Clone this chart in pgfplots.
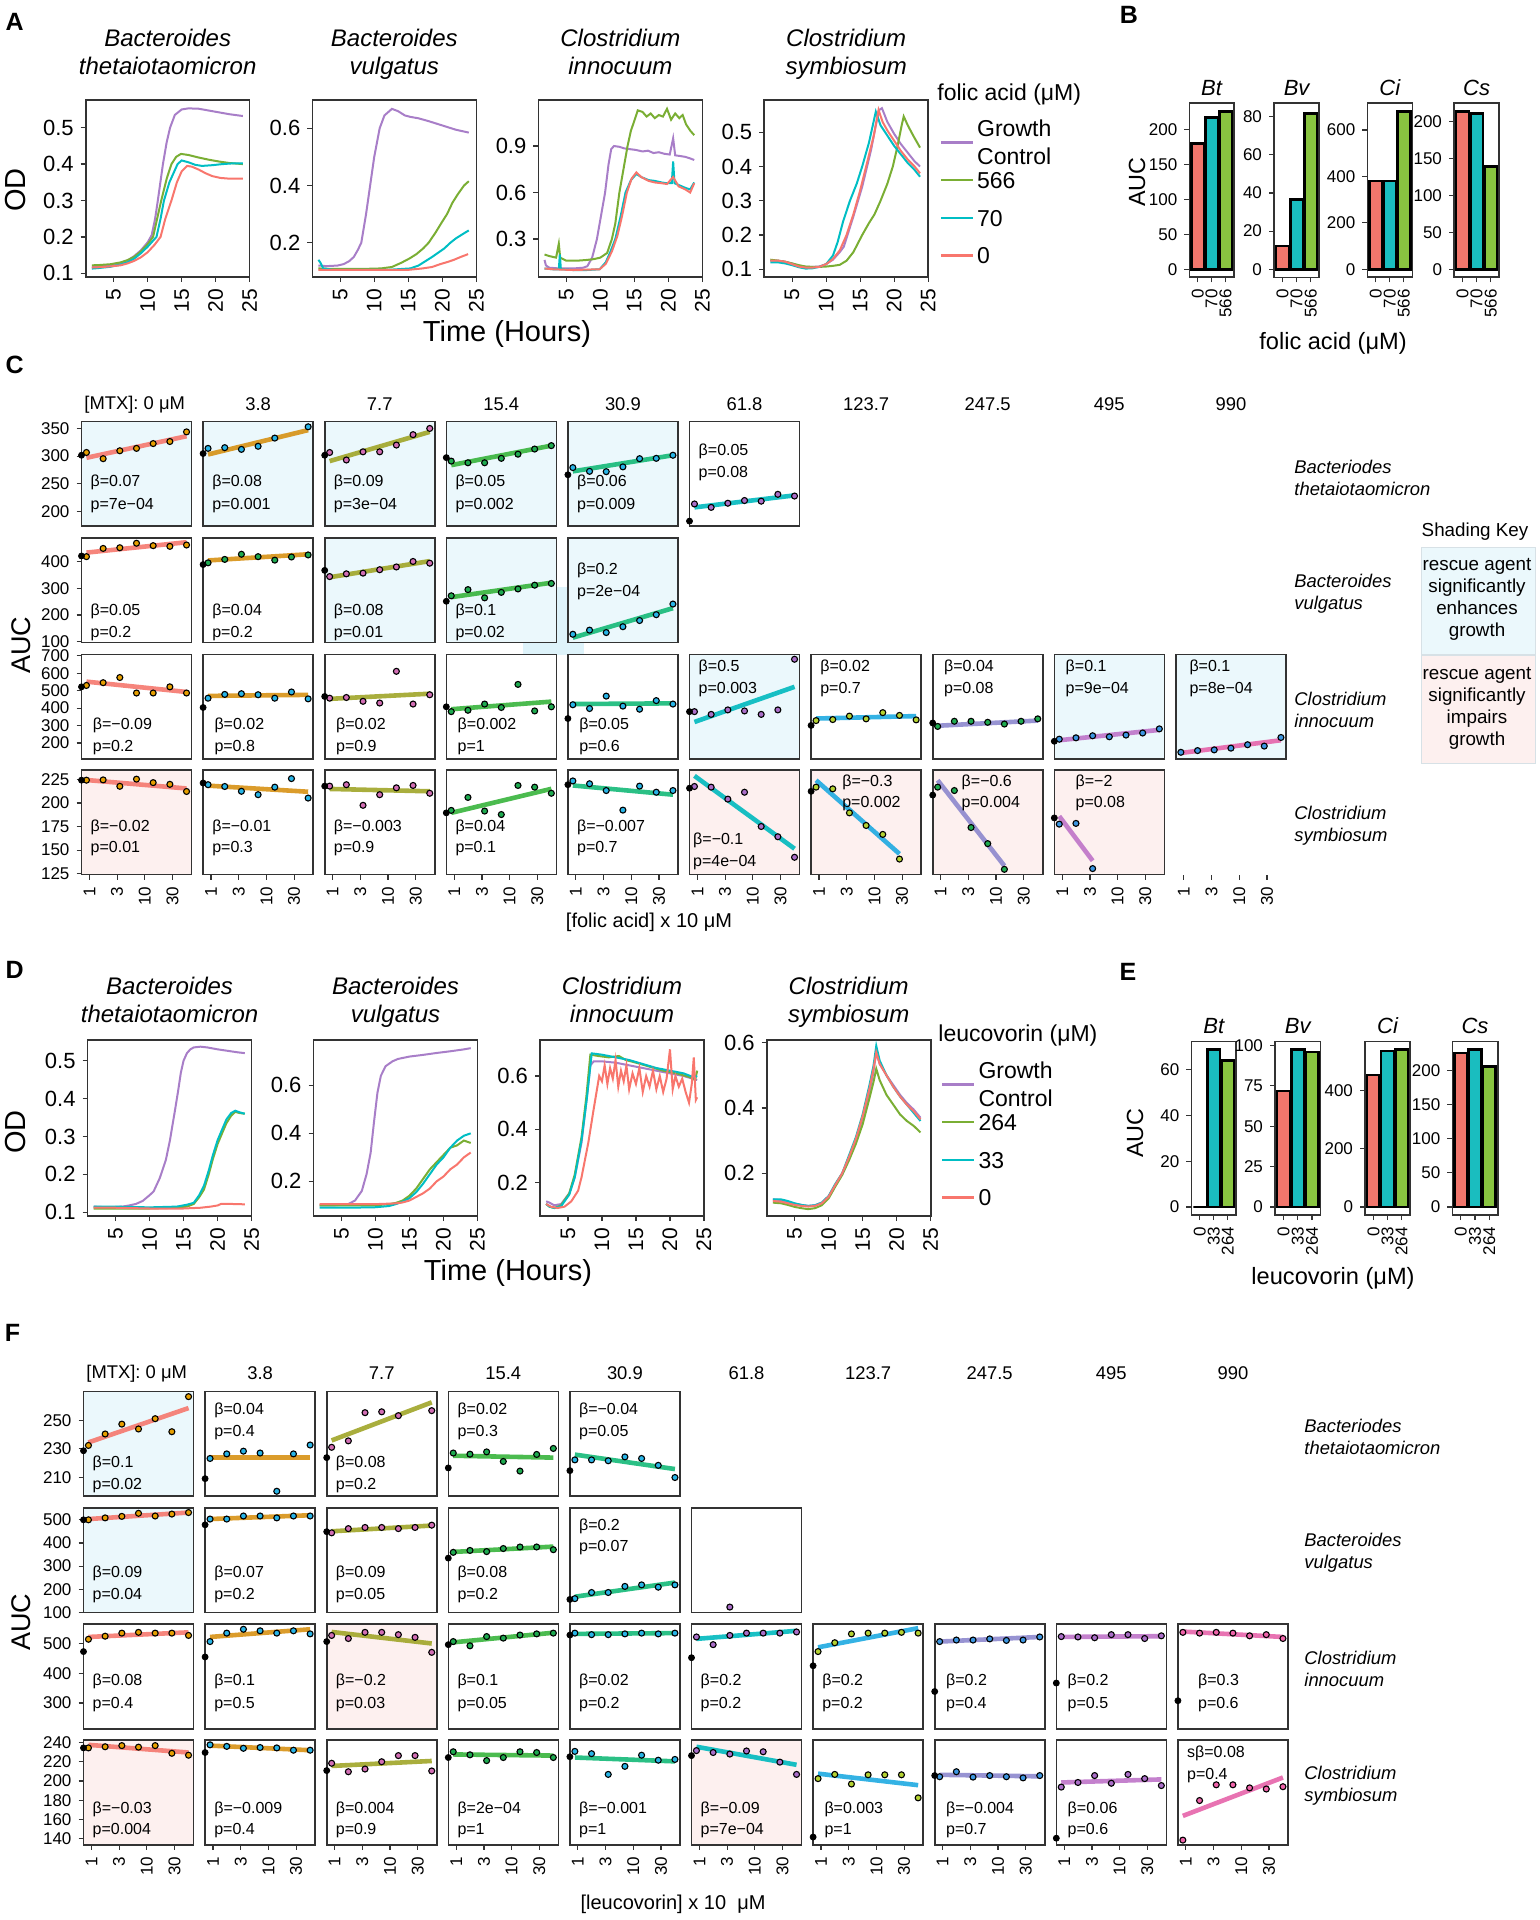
\documentclass[border=0pt]{standalone}
\usepackage{fontspec}
\setmainfont{Liberation Sans}
\usepackage{pgfplots}
\pgfplotsset{compat=1.18}

\definecolor{boxgray}{RGB}{51,51,51}
\definecolor{cP}{RGB}{168,126,200}
\definecolor{cG}{RGB}{122,174,52}
\definecolor{cC}{RGB}{0,190,196}
\definecolor{cR}{RGB}{248,118,109}
\definecolor{bR}{RGB}{241,118,108}
\definecolor{bC}{RGB}{26,189,191}
\definecolor{bG}{RGB}{137,196,64}
\definecolor{shblue}{RGB}{235,248,252}
\definecolor{shpink}{RGB}{253,240,239}
\definecolor{shblue2}{RGB}{222,243,250}
\definecolor{keyedge}{RGB}{215,225,230}
\definecolor{l1}{RGB}{245,120,110}
\definecolor{l2}{RGB}{215,145,20}
\definecolor{l3}{RGB}{160,165,40}
\definecolor{l4}{RGB}{55,180,60}
\definecolor{l5}{RGB}{20,185,120}
\definecolor{l6}{RGB}{0,185,190}
\definecolor{l7}{RGB}{30,170,225}
\definecolor{l8}{RGB}{140,135,205}
\definecolor{l9}{RGB}{190,115,200}
\definecolor{l10}{RGB}{230,100,170}
\definecolor{fA}{RGB}{230,159,0}
\definecolor{fB}{RGB}{40,180,230}
\definecolor{fC}{RGB}{210,110,180}
\definecolor{fD}{RGB}{30,170,80}
\definecolor{fE}{RGB}{170,110,200}
\definecolor{fG}{RGB}{180,210,50}
\definecolor{fH}{RGB}{60,150,225}
\definecolor{fI}{RGB}{240,100,170}

% pixel position of the 1539x1920 reference -> picture coordinates
\newcommand{\px}[2]{({(#1)*0.5pt},{-(#2)*0.5pt})}

% scatter x positions are log10 of the dose (x 10 uM):
% 0.884 1.77 3.54 7.08 14.15 28.3 56.6 ; the zero dose sits on the left edge
\pgfplotsset{
  pxat/.style 2 args={at={({(#1)*0.5pt},{-(#2)*0.5pt})}},
  base/.style={scale only axis, anchor=north west,
    axis line style={draw=boxgray, line width=0.8pt},
    every tick/.style={draw=boxgray, line width=0.6pt},
    major tick length=2.5pt, tick align=outside,
    xtick pos=bottom, ytick pos=left,
    /pgf/number format/assume math mode=true},
  ts/.style={base, width=82pt, xmin=0.9, xmax=25, xtick={5,10,15,20,25},
    x tick label style={rotate=90, anchor=east, font=\fontsize{10.5}{12}\selectfont},
    y tick label style={font=\fontsize{11}{13}\selectfont, /pgf/number format/fixed, /pgf/number format/precision=1},
    title style={font=\fontsize{12}{14}\selectfont\itshape, align=center, anchor=south, at={(0.5,1)}, inner sep=0pt, text depth=0pt},
    every axis plot/.append style={line width=1pt, no markers}},
  leg/.style={legend style={draw=none, fill=none, at={#1}, anchor=north west,
      font=\fontsize{11.5}{14}\selectfont, row sep=4.5pt, inner sep=0pt,
      nodes={inner sep=1.5pt}},
    legend cell align=left,
    legend image code/.code={\draw[##1, line width=1.2pt] (0pt,0pt) -- (16pt,0pt);}},
  bars/.style={base, xmin=0.4, xmax=3.6, xtick={1,2,3}, ybar, bar width=0.9,
    x tick label style={rotate=90, anchor=east, font=\fontsize{8.5}{10}\selectfont},
    y tick label style={font=\fontsize{8.5}{10}\selectfont},
    title style={font=\fontsize{11}{13}\selectfont\itshape, anchor=south, at={(0.5,1)}, inner sep=0pt, yshift=-2.5pt},
    every axis plot/.append style={draw=black, line width=1.3pt, bar shift=0pt}},
  sp/.style={base, width=55pt, height=52.25pt, xmin=-0.1427, xmax=1.8426,
    xtick=\empty, ytick=\empty, clip=false,
    y tick label style={font=\fontsize{8.5}{10}\selectfont},
    x tick label style={rotate=90, anchor=east, font=\fontsize{8.5}{10}\selectfont}},
  xl/.style={xtick={0,0.5,1,1.5}, xticklabels={1,3,10,30}},
  shb/.style={axis background/.style={fill=shblue}},
  shp/.style={axis background/.style={fill=shpink}},
  C1/.style={sp, pxat={81.5+121.6*#1}{421.7}, ymin=173.4, ymax=362.2},
  C2/.style={sp, pxat={81.5+121.6*#1}{538}, ymin=97.4, ymax=487.6},
  C3/.style={sp, pxat={81.5+121.6*#1}{654.4}, ymin=108.7, ymax=708},
  C4/.style={sp, pxat={81.5+121.6*#1}{770.1}, ymin=124, ymax=235, xl},
  F1/.style={sp, pxat={83.5+121.6*#1}{1391.6}, ymin=197, ymax=270},
  F2/.style={sp, pxat={83.5+121.6*#1}{1507.9}, ymin=100, ymax=551.4},
  F3/.style={sp, pxat={83.5+121.6*#1}{1624.2}, ymin=213, ymax=566.5},
  F4/.style={sp, pxat={83.5+121.6*#1}{1740.2}, ymin=133.6, ymax=242.4, xl},
}

\tikzset{btx/.style={anchor=west, inner sep=0pt, font=\fontsize{8}{9}\selectfont},
  lab/.style={inner sep=0pt, font=\fontsize{14.5}{17}\selectfont},
  hdr/.style={inner sep=0pt, font=\fontsize{9.2}{11}\selectfont},
  rowlab/.style={anchor=west, align=left, inner sep=0pt, font=\fontsize{9.2}{11}\selectfont\itshape}}

\newcommand{\pts}[8]{\addplot[only marks, mark=*, mark size=1.5pt, mark options={draw=black, fill=#1, line width=0.55pt}] coordinates {(-0.0535,#2)(0.248,#3)(0.549,#4)(0.850,#5)(1.151,#6)(1.452,#7)(1.753,#8)};}
\newcommand{\blk}[1]{\addplot[only marks, mark=*, mark size=1.5pt, black] coordinates {(-0.1427,#1)};}
\newcommand{\fit}[3]{\addplot[#1, line width=2.3pt, opacity=0.9] coordinates {(-0.0535,#2)(1.753,#3)};}
\newcommand{\fitx}[4]{\addplot[#1, line width=2.3pt, opacity=0.9] coordinates {(-0.0535,#2)(#3,#4)};}
\newcommand{\bt}[5]{\node[btx] at (rel axis cs:#1,#2) {#4}; \node[btx] at (rel axis cs:#1,#3) {#5};}
\newcommand{\bars}[3]{\addplot[fill=bR] coordinates {(1,#1)}; \addplot[fill=bC] coordinates {(2,#2)}; \addplot[fill=bG] coordinates {(3,#3)};}
\newcommand{\GC}{\strut\smash{\begin{tabular}[c]{@{}l@{}}Growth\\Control\end{tabular}}}

\begin{document}
\begin{tikzpicture}
\useasboundingbox (0,0) rectangle (769.5pt,-960pt);

% ---------------- labels ----------------
\node[inner sep=0pt, font=\fontsize{12.5}{15}\selectfont\bfseries] at \px{14.7}{22} {A};
\node[inner sep=0pt, font=\fontsize{12.5}{15}\selectfont\bfseries] at \px{1129}{15} {B};
\node[inner sep=0pt, font=\fontsize{12.5}{15}\selectfont\bfseries] at \px{14.7}{365} {C};
\node[inner sep=0pt, font=\fontsize{12.5}{15}\selectfont\bfseries] at \px{14.7}{970} {D};
\node[inner sep=0pt, font=\fontsize{12.5}{15}\selectfont\bfseries] at \px{1128}{972} {E};
\node[inner sep=0pt, font=\fontsize{12.5}{15}\selectfont\bfseries] at \px{12.5}{1333} {F};

\node[lab, rotate=90] at \px{16}{190} {OD};
\node[lab] at \px{507}{334} {Time (Hours)};
\node[lab, rotate=90] at \px{16}{1132} {OD};
\node[lab] at \px{508}{1273} {Time (Hours)};
\node[lab, anchor=west, font=\fontsize{11.5}{14}\selectfont] at \px{937}{94.5} {folic acid (μM)};
\node[lab, anchor=west, font=\fontsize{11.5}{14}\selectfont] at \px{938}{1036} {leucovorin (μM)};

\node[lab, rotate=90, font=\fontsize{11.7}{14}\selectfont] at \px{1137}{182} {AUC};
\node[lab, font=\fontsize{11.8}{14}\selectfont] at \px{1333}{343} {folic acid (μM)};
\node[lab, rotate=90, font=\fontsize{11.7}{14}\selectfont] at \px{1135}{1133} {AUC};
\node[lab, font=\fontsize{11.8}{14}\selectfont] at \px{1333}{1278} {leucovorin (μM)};

\node[lab, rotate=90, font=\fontsize{13.5}{16}\selectfont] at \px{21}{645} {AUC};
\node[lab, font=\fontsize{10}{12}\selectfont] at \px{649}{922} {[folic acid] x 10 μM};
\node[lab, rotate=90, font=\fontsize{13.5}{16}\selectfont] at \px{21}{1622} {AUC};
\node[lab, font=\fontsize{10}{12}\selectfont] at \px{673}{1904} {[leucovorin] x 10\ \ μM};

% column headers
\node[hdr] at \px{134.7}{404.4} {[MTX]: 0 μM};
\node[hdr] at \px{258.1}{404.4} {3.8};
\node[hdr] at \px{379.7}{404.4} {7.7};
\node[hdr] at \px{501.3}{404.4} {15.4};
\node[hdr] at \px{622.9}{404.4} {30.9};
\node[hdr] at \px{744.5}{404.4} {61.8};
\node[hdr] at \px{866.1}{404.4} {123.7};
\node[hdr] at \px{987.7}{404.4} {247.5};
\node[hdr] at \px{1109.3}{404.4} {495};
\node[hdr] at \px{1230.9}{404.4} {990};
\node[hdr] at \px{136.7}{1373.6} {[MTX]: 0 μM};
\node[hdr] at \px{260.1}{1373.6} {3.8};
\node[hdr] at \px{381.7}{1373.6} {7.7};
\node[hdr] at \px{503.3}{1373.6} {15.4};
\node[hdr] at \px{624.9}{1373.6} {30.9};
\node[hdr] at \px{746.5}{1373.6} {61.8};
\node[hdr] at \px{868.1}{1373.6} {123.7};
\node[hdr] at \px{989.7}{1373.6} {247.5};
\node[hdr] at \px{1111.3}{1373.6} {495};
\node[hdr] at \px{1232.9}{1373.6} {990};

% row labels
\node[rowlab] at \px{1294}{477.6} {Bacteriodes\\thetaiotaomicron};
\node[rowlab] at \px{1294}{594} {Bacteroides\\vulgatus};
\node[rowlab] at \px{1294}{710} {Clostridium\\innocuum};
\node[rowlab] at \px{1294}{826.2} {Clostridium\\symbiosum};
\node[rowlab] at \px{1304}{1436.9} {Bacteriodes\\thetaiotaomicron};
\node[rowlab] at \px{1304}{1553.1} {Bacteroides\\vulgatus};
\node[rowlab] at \px{1304}{1668.8} {Clostridium\\innocuum};
\node[rowlab] at \px{1304}{1785.5} {Clostridium\\symbiosum};

% shading key
\node[hdr, font=\fontsize{9.4}{11}\selectfont] at \px{1475}{532} {Shading Key};
\fill[shblue, draw=keyedge, line width=0.4pt] \px{1421}{547.3} rectangle \px{1535}{654.8};
\fill[shpink, draw=keyedge, line width=0.4pt] \px{1421}{655.8} rectangle \px{1535}{763.6};
\node[hdr, align=center, font=\fontsize{9.4}{11}\selectfont] at \px{1477}{599.4} {rescue agent\\significantly\\enhances\\growth};
\node[hdr, align=center, font=\fontsize{9.4}{11}\selectfont] at \px{1477}{708} {rescue agent\\significantly\\impairs\\growth};
\fill[shblue2] \px{523}{587} rectangle \px{584}{655};

% ---------------- panel A ----------------
\begin{axis}[ts, pxat={85.7}{100}, height=88.5pt, ymin=0.09, ymax=0.576, ytick={0.1,0.2,0.3,0.4,0.5},
  title={Bacteroides\\thetaiotaomicron}, title style={yshift=6.5pt}]
\addplot[cP] coordinates {(1.8,0.118)(3,0.12)(4.5,0.122)(6,0.128)(7,0.135)(8,0.147)(9,0.163)(10,0.185)(10.6,0.205)(11.1,0.25)(11.5,0.3)(12.25,0.4)(12.8,0.46)(13.3,0.5)(14,0.535)(15,0.55)(16,0.553)(17.5,0.552)(19,0.547)(20.5,0.542)(22,0.537)(24,0.532)};
\addplot[cG] coordinates {(1.8,0.122)(3,0.123)(4.5,0.125)(6,0.13)(7,0.136)(8,0.145)(9,0.16)(10,0.18)(10.8,0.2)(11.4,0.25)(12,0.3)(12.8,0.36)(13.5,0.4)(14.2,0.42)(14.9,0.428)(16,0.425)(17.5,0.418)(19,0.412)(20.5,0.407)(22,0.403)(24,0.4)};
\addplot[cC] coordinates {(1.8,0.113)(3,0.115)(4.5,0.118)(6,0.124)(7,0.13)(8,0.14)(9,0.155)(10,0.173)(11.3,0.2)(11.9,0.25)(12.4,0.3)(13.2,0.35)(14.4,0.4)(15,0.41)(16,0.405)(17,0.398)(18,0.395)(19.5,0.397)(21,0.4)(22.5,0.402)(24,0.402)};
\addplot[cR] coordinates {(1.8,0.116)(3,0.117)(4.5,0.119)(6,0.122)(7,0.127)(8,0.134)(9,0.144)(10,0.158)(11,0.178)(11.9,0.2)(12.6,0.25)(13.5,0.3)(14.3,0.35)(15,0.38)(15.8,0.395)(16.5,0.393)(17.5,0.385)(18.5,0.375)(19.5,0.367)(20.7,0.362)(22,0.36)(24,0.36)};
\end{axis}

\begin{axis}[ts, pxat={312.3}{100}, height=88.5pt, ymin=0.08, ymax=0.699, ytick={0.2,0.4,0.6},
  title={Bacteroides\\vulgatus}, title style={yshift=6.5pt}]
\addplot[cP] coordinates {(1.8,0.12)(3,0.118)(4.6,0.12)(5.5,0.125)(6.3,0.135)(7,0.15)(7.6,0.175)(8.1,0.2)(8.8,0.3)(9.4,0.4)(10,0.5)(10.8,0.6)(11.5,0.645)(12.6,0.668)(13.5,0.66)(14.5,0.645)(15.3,0.64)(16.5,0.635)(18,0.625)(20,0.61)(22,0.595)(23.9,0.585)};
\addplot[cG] coordinates {(1.8,0.11)(4,0.108)(8,0.108)(11,0.11)(12.6,0.115)(14,0.13)(15.2,0.145)(16.2,0.16)(17.2,0.18)(18,0.2)(19,0.235)(19.9,0.27)(20.7,0.3)(21.5,0.34)(22.3,0.37)(23.2,0.4)(23.9,0.415)};
\addplot[cC] coordinates {(1.8,0.14)(2.1,0.13)(2.5,0.11)(4,0.105)(8,0.105)(12,0.105)(15.3,0.11)(16.5,0.12)(17.5,0.135)(18.5,0.15)(19.4,0.165)(20.3,0.18)(21.2,0.2)(22,0.215)(23,0.23)(23.9,0.243)};
\addplot[cR] coordinates {(1.8,0.105)(5,0.105)(10,0.105)(15,0.105)(17.1,0.11)(18.5,0.115)(19.7,0.125)(20.7,0.132)(21.7,0.14)(22.7,0.15)(23.8,0.16)};
\end{axis}

\begin{axis}[ts, pxat={538.4}{100}, height=88.5pt, ymin=0.055, ymax=1.197, ytick={0.3,0.6,0.9},
  title={Clostridium\\innocuum}, title style={yshift=6.5pt}]
\addplot[cP] coordinates {(1.8,0.165)(2,0.13)(2.5,0.115)(4,0.11)(6,0.11)(7.5,0.115)(8.1,0.125)(8.8,0.18)(9.5,0.3)(10.1,0.45)(10.7,0.6)(11.2,0.78)(11.6,0.88)(12,0.9)(12.8,0.895)(13.5,0.885)(14.3,0.88)(15.2,0.875)(16.2,0.865)(17,0.87)(17.8,0.855)(18.6,0.86)(19.4,0.85)(20.2,0.845)(20.7,0.95)(21,0.84)(21.8,0.835)(22.5,0.83)(23.2,0.82)(23.8,0.81)};
\addplot[cG] coordinates {(1.8,0.2)(2.5,0.19)(3.5,0.18)(3.9,0.27)(4.1,0.18)(5,0.16)(6.5,0.16)(8,0.165)(9,0.17)(10,0.18)(11,0.21)(11.7,0.3)(12.2,0.4)(12.8,0.6)(13.4,0.75)(14,0.9)(14.5,1.0)(14.9,1.05)(15.5,1.13)(16.2,1.12)(16.8,1.09)(17.4,1.11)(18,1.08)(18.6,1.1)(19.2,1.09)(19.8,1.14)(20.4,1.07)(21,1.11)(21.6,1.08)(22.1,1.1)(22.6,1.04)(23.2,1.0)(23.8,0.97)};
\addplot[cC] coordinates {(1.8,0.11)(3,0.105)(3.9,0.105)(4.05,0.2)(4.2,0.105)(6,0.1)(8,0.1)(9.9,0.105)(10.8,0.15)(11.5,0.22)(12.2,0.3)(13,0.45)(13.7,0.6)(14.5,0.68)(15.3,0.72)(16,0.7)(17.1,0.68)(18,0.675)(19,0.665)(19.8,0.66)(20.5,0.66)(20.7,0.8)(20.9,0.66)(21.7,0.645)(22.5,0.63)(23.2,0.62)(23.8,0.665)};
\addplot[cR] coordinates {(1.8,0.11)(3,0.105)(6,0.1)(9.9,0.105)(10.8,0.14)(11.7,0.22)(12.5,0.32)(13.2,0.45)(13.9,0.6)(14.6,0.69)(15.3,0.73)(16,0.7)(17.1,0.675)(18,0.665)(19,0.66)(19.8,0.655)(20.7,0.7)(21.5,0.64)(22.5,0.62)(23.2,0.6)(23.8,0.66)};
\end{axis}

\begin{axis}[ts, pxat={764.2}{100}, height=88.5pt, ymin=0.0775, ymax=0.594, ytick={0.1,0.2,0.3,0.4,0.5},
  title={Clostridium\\symbiosum}, title style={yshift=6.5pt}, leg={(1.068,0.842)}]
\addplot[cP] coordinates {(1.8,0.125)(3,0.125)(4,0.122)(5,0.117)(6,0.11)(7,0.107)(8,0.107)(9,0.108)(10,0.115)(11,0.128)(12,0.15)(12.6,0.166)(14,0.254)(15.3,0.341)(16.6,0.448)(17.4,0.53)(17.8,0.565)(18.2,0.57)(19,0.53)(20,0.495)(21,0.465)(22,0.44)(23,0.415)(23.8,0.4)};
\addlegendentry{\GC}
\addplot[cG] coordinates {(1.8,0.128)(3,0.125)(4,0.122)(5,0.117)(6,0.112)(7,0.108)(8,0.107)(9,0.107)(10,0.108)(11,0.11)(12,0.113)(13,0.125)(14,0.15)(15.3,0.2)(16.3,0.235)(17.1,0.26)(18,0.3)(19,0.35)(19.8,0.4)(20.5,0.46)(21.1,0.52)(21.4,0.546)(22,0.52)(22.8,0.49)(23.8,0.455)};
\addlegendentry{\strut 566}
\addplot[cC] coordinates {(1.8,0.12)(3,0.12)(4,0.117)(5,0.112)(6,0.106)(7,0.102)(8,0.103)(9,0.107)(10,0.115)(11,0.14)(11.7,0.18)(12.5,0.24)(13.5,0.3)(14.5,0.35)(15.3,0.4)(16.3,0.47)(17.3,0.56)(18,0.52)(19,0.49)(20,0.46)(21,0.435)(22,0.41)(23,0.39)(23.8,0.37)};
\addlegendentry{\strut 70}
\addplot[cR] coordinates {(1.8,0.125)(3,0.125)(4,0.122)(5,0.115)(6,0.108)(7,0.105)(8,0.105)(9,0.107)(10,0.115)(11,0.13)(12,0.155)(13,0.2)(14,0.26)(15,0.33)(16,0.41)(17,0.49)(17.7,0.565)(18.3,0.53)(19,0.505)(20,0.475)(21,0.445)(22,0.42)(23,0.4)(23.8,0.38)};
\addlegendentry{\strut 0}
\end{axis}

% ---------------- panel B ----------------
\begin{axis}[bars, pxat={1189.3}{103.3}, width=22.3pt, height=87pt, ymin=-11.5, ymax=237.3, ytick={0,50,100,150,200}, xticklabels={0,70,566}, title={Bt}]
\bars{180}{217}{225.5}
\end{axis}
\begin{axis}[bars, pxat={1274}{103.3}, width=22.6pt, height=87pt, ymin=-4.2, ymax=87, ytick={0,20,40,60,80}, xticklabels={0,70,566}, title={Bv}]
\bars{12.2}{36.7}{81.5}
\end{axis}
\begin{axis}[bars, pxat={1367.3}{103.3}, width=22.5pt, height=87pt, ymin=-34.6, ymax=715.5, ytick={0,200,400,600}, xticklabels={0,70,566}, title={Ci}]
\bars{380}{380}{679}
\end{axis}
\begin{axis}[bars, pxat={1454}{103.3}, width=22.6pt, height=87pt, ymin=-10.9, ymax=224.9, ytick={0,50,100,150,200}, xticklabels={0,70,566}, title={Cs}]
\bars{213.5}{211}{139.6}
\end{axis}

% ---------------- panel C ----------------
% row 1: B. thetaiotaomicron
\begin{axis}[C1=0, shb, ytick={200,250,300,350}]
\fit{l1}{297}{336}
\pts{fA}{306.6}{295.4}{309.7}{314}{322.7}{326.4}{343.8}
\blk{301.6}
\bt{0.08}{0.416}{0.199}{β=0.07}{p=7e−04}
\end{axis}
\begin{axis}[C1=1, shb]
\fit{l2}{303}{347}
\pts{fB}{314}{315.3}{312.2}{317.8}{332.6}{nan}{353}
\blk{304.7}
\bt{0.08}{0.416}{0.199}{β=0.08}{p=0.001}
\end{axis}
\begin{axis}[C1=2, shb]
\fit{l3}{291}{343.8}
\pts{fC}{306.6}{293}{307.8}{307.8}{320}{338.8}{350}
\blk{301.6}
\bt{0.08}{0.416}{0.199}{β=0.09}{p=3e−04}
\end{axis}
\begin{axis}[C1=3, shb]
\fit{l4}{283.7}{319}
\pts{fD}{291}{288}{288}{296}{303.5}{312.8}{319}
\blk{297.3}
\bt{0.08}{0.416}{0.199}{β=0.05}{p=0.002}
\end{axis}
\begin{axis}[C1=4, shb]
\fit{l5}{272.5}{301.6}
\pts{fB}{279.3}{272.5}{271.9}{280.6}{295.4}{296}{301.6}
\blk{266.3}
\bt{0.08}{0.416}{0.199}{β=0.06}{p=0.009}
\end{axis}
\begin{axis}[C1=5]
\fit{l6}{207.4}{229.1}
\pts{fE}{213.6}{207.4}{214.9}{219.8}{218.6}{231}{227.9}
\blk{182.6}
\bt{0.08}{0.72}{0.506}{β=0.05}{p=0.08}
\end{axis}

% row 2: B. vulgatus
\begin{axis}[C2=0, ytick={100,200,300,400}]
\fit{l1}{433}{471.8}
\pts{fA}{418}{448.7}{451.3}{468}{459}{456.4}{461.5}
\blk{420.5}
\bt{0.08}{0.30}{0.087}{β=0.05}{p=0.2}
\end{axis}
\begin{axis}[C2=1]
\fit{l2}{403.8}{426.9}
\pts{fD}{394.9}{407.7}{426.9}{417.9}{405}{416.7}{424.4}
\blk{388.5}
\bt{0.08}{0.30}{0.087}{β=0.04}{p=0.2}
\end{axis}
\begin{axis}[C2=2, shb]
\fit{l3}{341}{401.3}
\pts{fC}{343.6}{353.8}{356.4}{369.2}{379.5}{400}{393.6}
\blk{366.7}
\bt{0.08}{0.30}{0.087}{β=0.08}{p=0.01}
\end{axis}
\begin{axis}[C2=3, shb]
\fit{l4}{266.7}{320.5}
\pts{fD}{271.8}{294.9}{264.1}{284.6}{297.4}{311.5}{317.9}
\blk{251.3}
\bt{0.08}{0.30}{0.087}{β=0.1}{p=0.02}
\end{axis}
\begin{axis}[C2=4, shb]
\fit{l5}{115.4}{225.6}
\pts{fB}{128.2}{143.6}{134.6}{156.4}{179.5}{201.3}{241}
\bt{0.08}{0.686}{0.474}{β=0.2}{p=2e−04}
\end{axis}

% row 3: C. innocuum
\begin{axis}[C3=0, ytick={200,300,400,500,600,700}]
\fit{l1}{551.8}{492.5}
\pts{fA}{530}{545.8}{575.5}{486.6}{486.6}{522}{486.6}
\blk{522}
\bt{0.1}{0.32}{0.106}{β=−0.09}{p=0.2}
\end{axis}
\begin{axis}[C3=1]
\fit{l2}{470}{476}
\pts{fB}{456.9}{478.7}{482.6}{476.7}{456.9}{492.5}{453}
\blk{403.6}
\bt{0.1}{0.32}{0.106}{β=0.02}{p=0.8}
\end{axis}
\begin{axis}[C3=2]
\fit{l3}{453}{482.6}
\pts{fC}{456.9}{460.9}{439}{429.2}{611}{423.3}{476.7}
\blk{466.8}
\bt{0.1}{0.32}{0.106}{β=0.02}{p=0.9}
\end{axis}
\begin{axis}[C3=3]
\fit{l4}{393.7}{437.2}
\pts{fD}{379.8}{387.7}{423.3}{403.6}{536}{383.8}{407.5}
\blk{407.5}
\bt{0.1}{0.32}{0.106}{β=0.002}{p=1}
\end{axis}
\begin{axis}[C3=4]
\fit{l5}{423.3}{427.3}
\pts{fB}{419.4}{397.6}{468.8}{411.5}{393.7}{443}{423.3}
\blk{340.3}
\bt{0.1}{0.32}{0.106}{β=0.05}{p=0.6}
\end{axis}
\begin{axis}[C3=5, shb]
\fit{l6}{320.5}{522}
\pts{fE}{379.8}{364}{389.7}{383.8}{364}{389.7}{680.2}
\blk{379.8}
\bt{0.08}{0.88}{0.667}{β=0.5}{p=0.003}
\end{axis}
\begin{axis}[C3=6]
\fit{l7}{340.3}{354.2}
\pts{fG}{328.5}{334.4}{354.2}{338.4}{374}{358.2}{332.5}
\blk{300.8}
\bt{0.08}{0.88}{0.667}{β=0.02}{p=0.7}
\end{axis}
\begin{axis}[C3=7]
\fit{l8}{298.8}{328.5}
\pts{fD}{294.9}{324.5}{324.5}{318.6}{308.7}{324.5}{338.4}
\blk{314.6}
\bt{0.1}{0.88}{0.667}{β=0.04}{p=0.08}
\end{axis}
\begin{axis}[C3=8, shb]
\fit{l9}{215.8}{275.1}
\pts{fH}{221.7}{229.6}{241.5}{235.6}{245.5}{257.3}{281}
\blk{209.9}
\bt{0.1}{0.88}{0.667}{β=0.1}{p=9e−04}
\end{axis}
\begin{axis}[C3=9, shb]
\fit{l10}{142.7}{215.8}
\pts{fH}{146.6}{156.5}{160.5}{170.4}{190.1}{182.2}{231.6}
\bt{0.12}{0.88}{0.667}{β=0.1}{p=8e−04}
\end{axis}

% row 4: C. symbiosum
\begin{axis}[C4=0, shp, ytick={125,150,175,200,225}]
\fit{l1}{224.5}{215.5}
\pts{fA}{224.3}{224.6}{217.8}{225.4}{221.7}{219.9}{212.3}
\blk{224.3}
\bt{0.08}{0.455}{0.248}{β=−0.02}{p=0.01}
\end{axis}
\begin{axis}[C4=1]
\fit{l2}{218.5}{212}
\pts{fB}{219.5}{217.6}{212.5}{208.9}{216.9}{226}{205.3}
\blk{221.3}
\bt{0.08}{0.455}{0.248}{β=−0.01}{p=0.3}
\end{axis}
\begin{axis}[C4=2]
\fit{l3}{215}{212.5}
\pts{fC}{218}{219.5}{197.6}{208.9}{216.2}{218.7}{210.4}
\blk{218}
\bt{0.08}{0.455}{0.248}{β=−0.003}{p=0.9}
\end{axis}
\begin{axis}[C4=3]
\fit{l4}{189.6}{215.1}
\pts{fD}{192.2}{206}{191.5}{187.8}{218.7}{216.9}{210.4}
\blk{189.6}
\bt{0.08}{0.455}{0.248}{β=0.04}{p=0.1}
\end{axis}
\begin{axis}[C4=4]
\fit{l5}{218.7}{208.9}
\pts{fB}{223.5}{220.5}{213.3}{192.5}{218}{211.5}{213.3}
\blk{219.5}
\bt{0.08}{0.455}{0.248}{β=−0.007}{p=0.7}
\end{axis}
\begin{axis}[C4=5, shp]
\fit{l6}{228.9}{151.5}
\pts{fE}{217.6}{216.9}{204.2}{211.5}{175.1}{164.2}{142.4}
\blk{215.8}
\bt{0.03}{0.325}{0.117}{β=−0.1}{p=4e−04}
\end{axis}
\begin{axis}[C4=6, shp]
\fitx{l7}{224.2}{1.452}{146}
\pts{fG}{216.9}{215.1}{189.6}{176.2}{166.7}{140.5}{nan}
\blk{212.5}
\bt{0.28}{0.884}{0.677}{β=−0.3}{p=0.002}
\end{axis}
\begin{axis}[C4=7, shp]
\fitx{l8}{224.2}{1.151}{133.3}
\pts{fD}{216.9}{213.3}{174}{156.9}{129.6}{nan}{nan}
\blk{208.5}
\bt{0.26}{0.884}{0.677}{β=−0.6}{p=0.004}
\end{axis}
\begin{axis}[C4=8, shp]
\fitx{l9}{186}{0.549}{138.7}
\pts{fH}{177.6}{178.4}{130.4}{nan}{nan}{nan}{nan}
\blk{184.2}
\bt{0.19}{0.884}{0.677}{β=−2}{p=0.08}
\end{axis}
\begin{axis}[C4=9, axis line style={draw=none}]
\addplot[draw=none] coordinates {(0,150)(1,150)};
\end{axis}

% ---------------- panel D ----------------
\begin{axis}[ts, pxat={87.6}{1040}, height=88pt, ymin=0.0902, ymax=0.5546, ytick={0.1,0.2,0.3,0.4,0.5},
  title={Bacteroides\\thetaiotaomicron}, title style={yshift=2.5pt}]
\addplot[cP] coordinates {(1.8,0.115)(4,0.113)(6,0.115)(7,0.118)(8,0.122)(9,0.13)(10,0.145)(10.6,0.155)(11.5,0.19)(12.4,0.238)(13,0.29)(13.75,0.37)(14.2,0.42)(14.6,0.468)(15,0.5)(15.5,0.52)(16,0.53)(16.5,0.535)(17.5,0.537)(18.5,0.535)(20,0.53)(21.5,0.526)(23,0.522)(24,0.52)};
\addplot[cG] coordinates {(1.8,0.11)(5,0.11)(10,0.11)(14,0.112)(15.5,0.115)(16.5,0.122)(17.3,0.14)(18,0.16)(18.7,0.2)(19.3,0.24)(20,0.28)(20.7,0.31)(21.3,0.335)(22,0.355)(22.6,0.365)(23.2,0.362)(24,0.36)};
\addplot[cC] coordinates {(1.8,0.115)(5,0.115)(10,0.113)(14,0.115)(15.5,0.12)(16.5,0.125)(17.3,0.145)(18,0.17)(18.7,0.21)(19.3,0.25)(20,0.29)(20.7,0.32)(21.3,0.345)(22,0.362)(22.6,0.368)(23.2,0.364)(24,0.36)};
\addplot[cR] coordinates {(1.8,0.112)(5,0.112)(10,0.11)(15,0.11)(17.5,0.112)(19,0.115)(20,0.118)(20.5,0.122)(22,0.122)(24,0.121)};
\end{axis}

\begin{axis}[ts, pxat={313.5}{1040}, height=88pt, ymin=0.0554, ymax=0.789, ytick={0.2,0.4,0.6},
  title={Bacteroides\\vulgatus}, title style={yshift=2.5pt}]
\addplot[cP] coordinates {(1.8,0.1)(4,0.1)(6,0.105)(7,0.12)(8,0.16)(8.7,0.23)(9.3,0.32)(9.8,0.45)(10.3,0.57)(10.8,0.64)(11.5,0.68)(12.5,0.7)(13.3,0.71)(15,0.72)(17,0.727)(19,0.735)(21,0.742)(23,0.75)(24,0.755)};
\addplot[cG] coordinates {(1.8,0.1)(6,0.1)(10,0.1)(12,0.105)(13,0.11)(14,0.12)(15,0.14)(16,0.17)(17,0.21)(18,0.25)(19,0.28)(20,0.31)(21,0.34)(22,0.35)(23,0.37)(24,0.36)};
\addplot[cC] coordinates {(1.8,0.09)(6,0.09)(10,0.092)(12,0.097)(13,0.105)(14,0.115)(15,0.13)(16,0.155)(17,0.19)(18,0.23)(19,0.27)(20,0.3)(21,0.34)(22,0.37)(23,0.39)(24,0.4)};
\addplot[cR] coordinates {(1.8,0.105)(6,0.105)(10,0.105)(13,0.108)(14,0.112)(15,0.12)(16,0.135)(17,0.15)(18,0.17)(19,0.2)(20,0.22)(21,0.25)(22,0.27)(23,0.3)(24,0.32)};
\end{axis}

\begin{axis}[ts, pxat={540}{1040}, height=88pt, ymin=0.075, ymax=0.735, ytick={0.2,0.4,0.6},
  title={Clostridium\\innocuum}, title style={yshift=2.5pt}]
\addplot[cP] coordinates {(1.8,0.13)(2.3,0.125)(3,0.115)(4,0.12)(5.2,0.16)(6,0.22)(7,0.35)(7.7,0.5)(8.3,0.64)(8.8,0.655)(10,0.655)(12,0.65)(14,0.64)(16,0.63)(18,0.62)(20,0.61)(22,0.6)(24,0.585)};
\addplot[cG] coordinates {(1.8,0.12)(2.3,0.11)(3,0.105)(4,0.115)(5.2,0.16)(6,0.23)(7,0.37)(7.7,0.52)(8.3,0.68)(9.5,0.675)(11,0.67)(12.5,0.675)(13.5,0.66)(15,0.65)(17,0.635)(19,0.62)(21,0.61)(23,0.595)(23.7,0.585)(24,0.62)};
\addplot[cC] coordinates {(1.8,0.12)(2.3,0.11)(3,0.105)(4,0.112)(5.2,0.155)(6,0.22)(7,0.36)(7.8,0.52)(8.5,0.685)(10,0.68)(12,0.67)(14,0.66)(16,0.645)(18,0.63)(20,0.62)(22,0.61)(23.5,0.595)(24,0.6)};
\addplot[cR] coordinates {(1.8,0.12)(2.5,0.11)(3.5,0.105)(4.5,0.11)(5.5,0.13)(6.5,0.17)(7,0.22)(8,0.35)(8.75,0.47)(9.6,0.6)(10,0.58)(10.4,0.64)(10.8,0.57)(11.2,0.63)(11.6,0.59)(12,0.66)(12.4,0.56)(12.8,0.62)(13.2,0.58)(13.6,0.64)(14,0.55)(14.5,0.61)(15,0.57)(15.5,0.63)(16,0.54)(16.5,0.6)(17,0.56)(17.5,0.62)(18,0.55)(18.5,0.6)(19,0.54)(19.5,0.59)(20,0.7)(20.4,0.55)(20.8,0.6)(21.3,0.56)(21.8,0.59)(22.3,0.54)(22.8,0.5)(23.2,0.57)(23.5,0.67)(23.8,0.51)(24,0.52)};
\end{axis}

\begin{axis}[ts, pxat={766.7}{1040}, height=88pt, ymin=0.069, ymax=0.608, ytick={0.2,0.4,0.6},
  title={Clostridium\\symbiosum}, title style={yshift=2.5pt}, leg={(1.061,0.83)}]
\addplot[cP] coordinates {(1.8,0.12)(3,0.118)(4,0.113)(5,0.107)(6,0.103)(7,0.1)(8,0.102)(9,0.11)(10,0.13)(11,0.165)(12,0.2)(13,0.245)(14,0.3)(15,0.37)(16,0.45)(16.5,0.5)(17,0.57)(17.5,0.535)(18.5,0.5)(19.5,0.47)(20.5,0.44)(21.5,0.415)(22.5,0.395)(23.5,0.37)};
\addlegendentry{\GC}
\addplot[cG] coordinates {(1.8,0.11)(3,0.108)(4,0.103)(5,0.097)(6,0.093)(7,0.09)(8,0.093)(9,0.102)(10,0.123)(11,0.16)(12,0.195)(13,0.24)(14,0.29)(15,0.35)(16,0.43)(16.6,0.48)(17,0.52)(17.5,0.485)(18.5,0.44)(19.5,0.41)(20.5,0.38)(21.5,0.36)(22.5,0.345)(23.5,0.325)};
\addlegendentry{\strut 264}
\addplot[cC] coordinates {(1.8,0.12)(3,0.12)(4,0.115)(5,0.108)(6,0.103)(7,0.1)(8,0.102)(9,0.11)(10,0.13)(11,0.168)(12,0.2)(13,0.255)(14,0.31)(15,0.38)(16,0.47)(16.6,0.53)(17,0.59)(17.5,0.545)(18.5,0.5)(19.5,0.465)(20.5,0.435)(21.5,0.41)(22.5,0.385)(23.5,0.36)};
\addlegendentry{\strut 33}
\addplot[cR] coordinates {(1.8,0.115)(3,0.113)(4,0.108)(5,0.103)(6,0.1)(7,0.098)(8,0.1)(9,0.108)(10,0.128)(11,0.165)(12,0.2)(13,0.25)(14,0.305)(15,0.375)(16,0.46)(16.6,0.52)(17,0.57)(17.5,0.535)(18.5,0.5)(19.5,0.465)(20.5,0.435)(21.5,0.41)(22.5,0.39)(23.5,0.365)};
\addlegendentry{\strut 0}
\end{axis}

% ---------------- panel E ----------------
\begin{axis}[bars, pxat={1191.3}{1041.3}, width=22.4pt, height=86.85pt, ymin=-3.5, ymax=72.3, ytick={0,20,40,60}, xticklabels={0,33,264}, title={Bt}]
\bars{0}{68.7}{64}
\end{axis}
\begin{axis}[bars, pxat={1275}{1041.3}, width=22.8pt, height=86.85pt, ymin=-4.9, ymax=102.5, ytick={0,25,50,75,100}, xticklabels={0,33,264}, title={Bv}]
\bars{71.7}{97.3}{95.9}
\end{axis}
\begin{axis}[bars, pxat={1365}{1041.3}, width=22.5pt, height=86.85pt, ymin=-27.4, ymax=570, ytick={0,200,400}, xticklabels={0,33,264}, title={Ci}]
\bars{453.6}{536.9}{541.7}
\end{axis}
\begin{axis}[bars, pxat={1452.3}{1041.3}, width=22.7pt, height=86.85pt, ymin=-11.6, ymax=242.2, ytick={0,50,100,150,200}, xticklabels={0,33,264}, title={Cs}]
\bars{225.1}{230.1}{205.8}
\end{axis}

% ---------------- panel F ----------------
% row 1
\begin{axis}[F1=0, shb, ytick={210,230,250}]
\fit{l1}{234.5}{258.5}
\pts{fA}{232.4}{240.4}{247.3}{243.9}{251.1}{242}{266.5}
\blk{228.7}
\bt{0.08}{0.314}{0.102}{β=0.1}{p=0.02}
\end{axis}
\begin{axis}[F1=1]
\fit{l2}{223.9}{223.9}
\pts{fB}{223.3}{226.5}{228.4}{227.1}{200.4}{226.5}{232.7}
\blk{209.2}
\bt{0.08}{0.818}{0.61}{β=0.04}{p=0.4}
\end{axis}
\begin{axis}[F1=2]
\fit{l3}{235.9}{262.5}
\pts{fC}{231.1}{235.6}{255.3}{255.9}{253.2}{nan}{256.7}
\blk{223.9}
\bt{0.08}{0.314}{0.102}{β=0.08}{p=0.2}
\end{axis}
\begin{axis}[F1=3]
\fit{l4}{225.2}{223.9}
\pts{fD}{227.1}{226.3}{227.9}{221.2}{214.5}{226.1}{230.3}
\blk{216.7}
\bt{0.08}{0.818}{0.61}{β=0.02}{p=0.3}
\end{axis}
\begin{axis}[F1=4]
\fit{l5}{226}{215.9}
\pts{fB}{222.3}{222.3}{221.7}{224.4}{223.3}{218.5}{210}
\blk{214.8}
\bt{0.08}{0.818}{0.61}{β=−0.04}{p=0.05}
\end{axis}

% row 2
\begin{axis}[F2=0, shb, ytick={100,200,300,400,500}]
\fit{l1}{503.3}{531.4}
\pts{fA}{500}{508.3}{514.9}{528.1}{516.5}{524.8}{531.4}
\blk{500}
\bt{0.08}{0.376}{0.164}{β=0.09}{p=0.04}
\end{axis}
\begin{axis}[F2=1]
\fit{l2}{503.3}{519.8}
\pts{fB}{503.3}{503.3}{516.5}{516.5}{508.3}{516.5}{516.5}
\blk{478.5}
\bt{0.08}{0.376}{0.164}{β=0.07}{p=0.2}
\end{axis}
\begin{axis}[F2=2]
\fit{l3}{450.4}{475.2}
\pts{fC}{443.8}{462}{466.9}{466.9}{462}{466.9}{476.9}
\blk{448.8}
\bt{0.08}{0.376}{0.164}{β=0.09}{p=0.05}
\end{axis}
\begin{axis}[F2=3]
\fit{l4}{361.2}{384.3}
\pts{fD}{359.5}{367.8}{362.8}{376}{382.6}{382.6}{371}
\blk{334.7}
\bt{0.08}{0.376}{0.164}{β=0.08}{p=0.2}
\end{axis}
\begin{axis}[F2=4]
\fit{l5}{167.8}{229}
\pts{fB}{159.5}{186}{186}{212.4}{219}{209.1}{219}
\blk{156.2}
\bt{0.08}{0.828}{0.62}{β=0.2}{p=0.07}
\end{axis}
\begin{axis}[F2=5]
\pts{fE}{nan}{nan}{123.1}{nan}{nan}{nan}{nan}
\end{axis}

% row 3
\begin{axis}[F3=0, ytick={300,400,500}]
\fit{l1}{523.4}{539}
\pts{fA}{515.6}{526}{536.4}{539}{536.4}{536.4}{528.6}
\blk{474}
\bt{0.08}{0.45}{0.235}{β=0.08}{p=0.4}
\end{axis}
\begin{axis}[F3=1]
\fit{l2}{523.4}{549.4}
\pts{fB}{507.8}{536.4}{549.4}{544.2}{536.4}{544.2}{533.8}
\blk{455.8}
\bt{0.08}{0.45}{0.235}{β=0.1}{p=0.5}
\end{axis}
\begin{axis}[F3=2, shp]
\fit{l3}{540.3}{501.3}
\pts{fC}{528.6}{518.2}{539}{539}{531.2}{522.1}{471.4}
\blk{507.8}
\bt{0.08}{0.45}{0.235}{β=−0.2}{p=0.03}
\end{axis}
\begin{axis}[F3=3]
\fit{l4}{505.2}{537.7}
\pts{fD}{507.8}{493.5}{524.7}{519.5}{529.9}{533.8}{536.4}
\blk{497.4}
\bt{0.08}{0.45}{0.235}{β=0.1}{p=0.05}
\end{axis}
\begin{axis}[F3=4]
\fit{l5}{533.8}{536.4}
\pts{fB}{536.4}{531.2}{531.2}{533.8}{536.4}{533.8}{536.4}
\blk{529.9}
\bt{0.08}{0.45}{0.235}{β=0.02}{p=0.2}
\end{axis}
\begin{axis}[F3=5]
\fit{l6}{516.9}{544.2}
\pts{fE}{523.4}{497.4}{528.6}{536.4}{536.4}{536.4}{540.3}
\blk{453.2}
\bt{0.08}{0.45}{0.235}{β=0.2}{p=0.2}
\end{axis}
\begin{axis}[F3=6]
\fit{l7}{488.3}{553.2}
\pts{fG}{474}{503.9}{533.8}{536.4}{536.4}{539}{536.4}
\blk{426}
\bt{0.08}{0.45}{0.235}{β=0.2}{p=0.2}
\end{axis}
\begin{axis}[F3=7]
\fit{l8}{507.8}{523.4}
\pts{fH}{507.8}{513}{513}{516.9}{511.7}{513}{523.4}
\blk{338.9}
\bt{0.1}{0.45}{0.235}{β=0.2}{p=0.4}
\end{axis}
\begin{axis}[F3=8]
\fit{l9}{523.4}{526}
\pts{fE}{524.7}{523.4}{520.8}{531.2}{531.2}{518.2}{527.3}
\blk{367.5}
\bt{0.1}{0.45}{0.235}{β=0.2}{p=0.5}
\end{axis}
\begin{axis}[F3=9]
\fit{l10}{541.6}{523.4}
\pts{fI}{539}{536.4}{539}{536.4}{527.3}{531.2}{518.2}
\blk{307.8}
\bt{0.18}{0.45}{0.235}{β=0.3}{p=0.6}
\end{axis}

% row 4
\begin{axis}[F4=0, shp, ytick={140,160,180,200,220,240}]
\fit{l1}{237.6}{229.6}
\pts{fA}{234.4}{235.6}{236.8}{235.2}{236.8}{228.8}{226.8}
\blk{234.4}
\bt{0.08}{0.343}{0.134}{β=−0.03}{p=0.004}
\end{axis}
\begin{axis}[F4=1]
\fit{l2}{236.8}{232}
\pts{fB}{237.6}{236}{234}{234.8}{234.4}{232}{232}
\blk{229.6}
\bt{0.08}{0.343}{0.134}{β=−0.009}{p=0.4}
\end{axis}
\begin{axis}[F4=2]
\fit{l3}{215.6}{220.8}
\pts{fC}{218.4}{209.6}{212.4}{220}{226.4}{226.4}{210.4}
\blk{210.8}
\bt{0.08}{0.343}{0.134}{β=0.004}{p=0.9}
\end{axis}
\begin{axis}[F4=3]
\fit{l4}{227.6}{226.4}
\pts{fD}{230.4}{227.2}{221.2}{224.4}{230.4}{229.6}{224.4}
\blk{224.4}
\bt{0.08}{0.343}{0.134}{β=2e−04}{p=1}
\end{axis}
\begin{axis}[F4=4]
\fit{l5}{224.4}{220.4}
\pts{fB}{230.8}{228.4}{206.8}{215.2}{226.8}{221.6}{222.4}
\blk{225.2}
\bt{0.08}{0.343}{0.134}{β=−0.001}{p=1}
\end{axis}
\begin{axis}[F4=5, shp]
\fit{l6}{235.6}{216.8}
\pts{fE}{231.6}{229.6}{228}{231.2}{230.4}{219.6}{206.8}
\blk{226.4}
\bt{0.08}{0.343}{0.134}{β=−0.09}{p=7e−04}
\end{axis}
\begin{axis}[F4=6]
\fit{l7}{207.6}{195.6}
\pts{fG}{202.4}{206.8}{196.8}{206.4}{206.4}{206.4}{182.4}
\blk{141.6}
\bt{0.1}{0.343}{0.134}{β=0.003}{p=1}
\end{axis}
\begin{axis}[F4=7]
\fit{l8}{206.4}{204.8}
\pts{fH}{204.4}{209.6}{204}{205.6}{204.4}{203.2}{205.6}
\blk{205.6}
\bt{0.1}{0.343}{0.134}{β=−0.004}{p=0.7}
\end{axis}
\begin{axis}[F4=8]
\fit{l9}{198.4}{201.6}
\pts{fE}{193.6}{198.4}{205.6}{197.6}{206.8}{202.4}{195.2}
\blk{140.4}
\bt{0.1}{0.343}{0.134}{β=0.06}{p=0.6}
\end{axis}
\begin{axis}[F4=9]
\fit{l10}{163.6}{203.6}
\pts{fI}{138.4}{179.6}{196}{196}{192.8}{191.6}{194}
\bt{0.08}{0.872}{0.664}{sβ=0.08}{p=0.4}
\end{axis}

\end{tikzpicture}
\end{document}
